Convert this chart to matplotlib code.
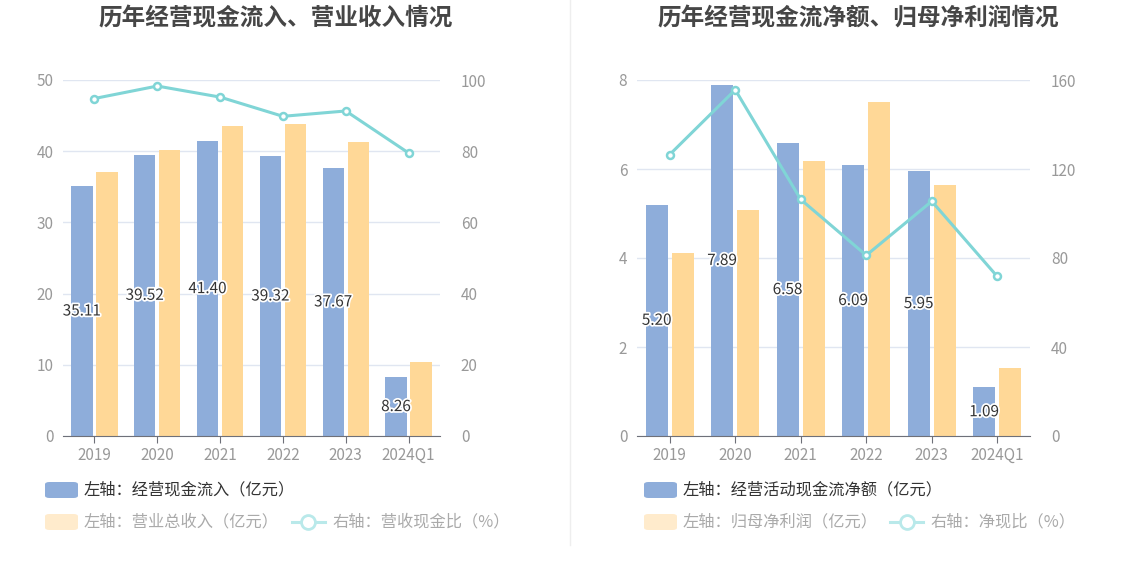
import numpy as np
import matplotlib.pyplot as plt
import matplotlib.patheffects as pe
from matplotlib.patches import FancyBboxPatch
from matplotlib.lines import Line2D

plt.rcParams['font.family'] = ['Noto Sans CJK SC', 'DejaVu Sans']

years = ['2019', '2020', '2021', '2022', '2023', '2024Q1']

# 左图
cash_in = [35.11, 39.52, 41.40, 39.32, 37.67, 8.26]
revenue = [37.1, 40.2, 43.5, 43.8, 41.3, 10.4]
cash_ratio = [94.8, 98.3, 95.2, 89.8, 91.3, 79.5]

# 右图
net_cash = [5.20, 7.89, 6.58, 6.09, 5.95, 1.09]
net_profit = [4.11, 5.07, 6.19, 7.50, 5.64, 1.52]
net_ratio = [126.5, 155.6, 106.3, 81.2, 105.5, 71.7]

BLUE = '#8eadda'
YELLOW = '#ffd897'
CYAN = '#80d5d6'
GRID = '#e0e6f1'
TICK = '#999999'

W, H = 1134, 582
fig = plt.figure(figsize=(W / 100, H / 100), dpi=100)


def px(x, y):
    return x / W, 1 - y / H


def draw_panel(rect, title, tcx, bars1, bars2, line, lmax, lstep, rmax, rstep, fmt):
    ax = fig.add_axes(rect)
    x = np.arange(len(years))
    bw = 0.34
    off = 0.2
    ax.bar(x - off, bars1, bw, color=BLUE, zorder=2)
    ax.bar(x + off, bars2, bw, color=YELLOW, zorder=2)
    for xi, v in zip(x, bars1):
        t = ax.text(xi - off, v / 2, fmt.format(v), ha='center', va='center',
                    fontsize=11, color='#333333', zorder=5)
        t.set_path_effects([pe.withStroke(linewidth=2.5, foreground='white')])
    ax.set_xlim(-0.5, len(years) - 0.5)
    ax.set_ylim(0, lmax)
    ax.set_yticks(np.arange(0, lmax + 0.01, lstep))
    ax.yaxis.grid(True, color=GRID, linewidth=1, zorder=0)
    ax.set_xticks(x)
    ax.set_xticklabels(years)
    ax.tick_params(axis='x', colors='#6e7079', labelcolor=TICK, labelsize=11, length=5, pad=3)
    ax.tick_params(axis='y', length=0, labelcolor=TICK, labelsize=11, pad=7)
    for s in ['top', 'right', 'left']:
        ax.spines[s].set_visible(False)
    ax.spines['bottom'].set_color('#6e7079')
    ax.set_axisbelow(True)

    ax2 = ax.twinx()
    ax2.plot(x, line, color=CYAN, linewidth=2.2, marker='o', markersize=5,
             markerfacecolor='white', markeredgecolor=CYAN, markeredgewidth=1.8, zorder=4)
    ax2.set_ylim(0, rmax)
    ax2.set_yticks(np.arange(0, rmax + 0.01, rstep))
    ax2.tick_params(axis='y', length=0, labelcolor=TICK, labelsize=11, pad=15)
    for s in ax2.spines.values():
        s.set_visible(False)

    fig.text(*px(tcx, 18), title, ha='center', va='center', fontsize=17,
             fontweight='bold', color='#464646')
    return ax


draw_panel([63 / W, 1 - 436 / H, 377 / W, 356 / H], '历年经营现金流入、营业收入情况', 276,
           cash_in, revenue, cash_ratio, 50, 10, 100, 20, '{:.2f}')
draw_panel([637 / W, 1 - 436 / H, 393 / W, 356 / H], '历年经营现金流净额、归母净利润情况', 858,
           net_cash, net_profit, net_ratio, 8, 2, 160, 40, '{:.2f}')

# 分隔线
fig.add_artist(Line2D([570 / W, 570 / W], [1 - 545 / H, 1.0], color='#eeeeee', linewidth=1))


def legend_patch(x, y, color, label, tcolor):
    bx, by = px(x, y + 8)
    p = FancyBboxPatch((bx, by), 33 / W, 16 / H, boxstyle='round,pad=0,rounding_size=0.004',
                       transform=fig.transFigure, facecolor=color, edgecolor='none')
    fig.add_artist(p)
    fig.text(*px(x + 39, y), label, ha='left', va='center', fontsize=11.7, color=tcolor)


def legend_line(x, y, label):
    x0, yy = px(x, y)
    x1, _ = px(x + 33, y)
    fig.add_artist(Line2D([x0, x1], [yy, yy], color='#b9e9ea', linewidth=2.2))
    fig.add_artist(Line2D([(x0 + x1) / 2], [yy], marker='o', markersize=10, markerfacecolor='white',
                          markeredgecolor='#b9e9ea', markeredgewidth=2))
    fig.text(*px(x + 40, y), label, ha='left', va='center', fontsize=11.7, color='#aaaaaa')


legend_patch(45, 490, BLUE, '左轴：经营现金流入（亿元）', '#333333')
legend_patch(45, 522, '#ffebcc', '左轴：营业总收入（亿元）', '#aaaaaa')
legend_line(292, 522, '右轴：营收现金比（%）')

legend_patch(644, 490, BLUE, '左轴：经营活动现金流净额（亿元）', '#333333')
legend_patch(644, 522, '#ffebcc', '左轴：归母净利润（亿元）', '#aaaaaa')
legend_line(890, 522, '右轴：净现比（%）')

fig.savefig('out.png', dpi=100)
